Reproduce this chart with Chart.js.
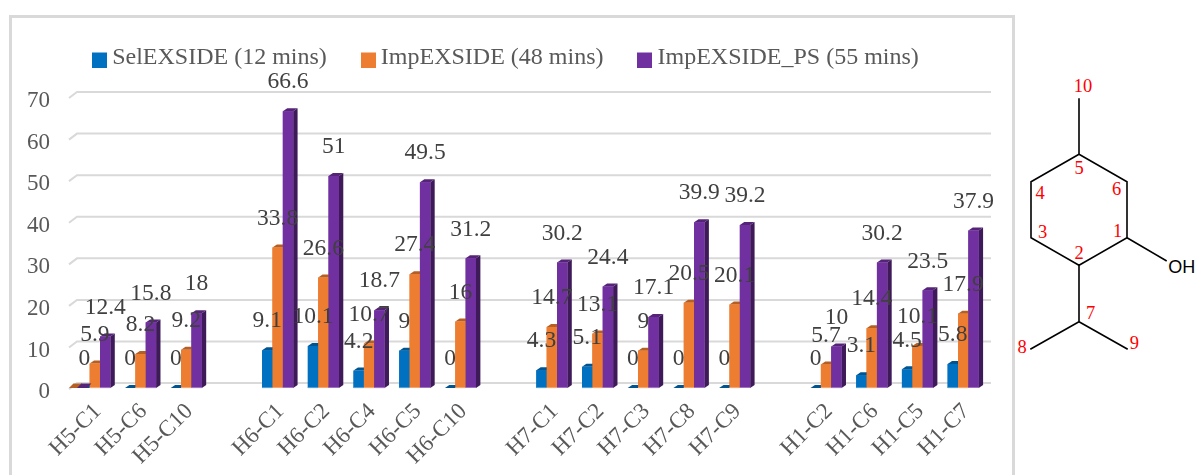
<!DOCTYPE html>
<html><head><meta charset="utf-8">
<script src="https://cdn.jsdelivr.net/npm/chart.js@4"></script>
<style>
html,body{margin:0;padding:0;background:#fff;overflow:hidden}
#frame{position:absolute;left:9px;top:15px;width:1000px;height:470px;border:3px solid #d9d9d9;box-sizing:content-box}
#wrap{position:absolute;left:0;top:0;width:1012px;height:475px;overflow:hidden}
#mol{position:absolute;left:1012px;top:0}
</style></head><body>
<div id="frame"></div>
<div id="wrap"><canvas id="c" width="1012" height="472"></canvas></div>
<svg id="mol" width="185" height="475" viewBox="1012 0 185 475">
<g fill="none" stroke="#000" stroke-width="1.6">
<path d="M1079 98.3V154.3L1127 181.7V237.7L1079 265.3L1031 237.7V181.7L1079 154.3"/>
<path d="M1127 237.7L1166.7 261M1079 265.3V321.7L1030.3 349.3M1079 321.7L1127.7 349.3"/>
</g>
<g fill="#ff0000" font-family="Liberation Serif" font-size="18.5" text-anchor="middle" dominant-baseline="central">
<text x="1083" y="86">10</text><text x="1079" y="167.7">5</text><text x="1116.7" y="189">6</text><text x="1040" y="192.7">4</text><text x="1042.7" y="231.7">3</text><text x="1117.7" y="231">1</text><text x="1079" y="253">2</text><text x="1090.7" y="312.7">7</text><text x="1022" y="346.7">8</text><text x="1134.3" y="342.7">9</text>
</g>
<text x="1181.7" y="266.7" fill="#000" font-family="Liberation Sans" font-size="18" text-anchor="middle" dominant-baseline="central">OH</text>
</svg>
<script>
const categories = ['H5-C1','H5-C6','H5-C10','','H6-C1','H6-C2','H6-C4','H6-C5','H6-C10','','H7-C1','H7-C2','H7-C3','H7-C8','H7-C9','','H1-C2','H1-C6','H1-C5','H1-C7'];
const selExside = [0,0,0,null,9.1,10.1,4.2,9,0,null,4.3,5.1,0,0,0,null,0,3.1,4.5,5.8];
const impExside = [5.9,8.2,9.2,null,33.8,26.6,10.7,27.4,16,null,14.7,13.1,9,20.5,20.1,null,5.7,14.4,10.1,17.9];
const impExsidePs = [12.4,15.8,18,null,66.6,51,18.7,49.5,31.2,null,30.2,24.4,17.1,39.9,39.2,null,10,30.2,23.5,37.9];
const seriesNames = ['SelEXSIDE (12 mins)','ImpEXSIDE (48 mins)','ImpEXSIDE_PS (55 mins)'];
const yTicks = [0,10,20,30,40,50,60,70];

const fills = ['#0070C0','#ED7D31','#7030A0'];
const caps = ['#00548f','#b55f24','#552479'];
const sides = ['#003f6b','#8a4719','#3e1a59'];
const DX = 4.4, DY = 3;

function swatch(color){
  const s = document.createElement('canvas'); s.width = 15; s.height = 19;
  const g = s.getContext('2d'); g.fillStyle = color; g.fillRect(0,4,15,15);
  return s;
}
const swatches = fills.map(swatch);

const bars3d = {
  id:'bars3d',
  beforeLayout(chart){
    const l = chart.legend;
    if (!l._baseFit) {
      l._baseFit = l.fit;
      l.fit = function(){ this._baseFit(); this.height += 17; };
    }
  },
  afterLayout(chart){
    chart.legend.left += 16;
    chart.legend.right += 16;
  },
  beforeDatasetsDraw(chart){
    const {ctx, scales:{x,y}} = chart;
    ctx.save();
    ctx.strokeStyle = '#d9d9d9'; ctx.lineWidth = 2;
    y.ticks.forEach(t=>{
      const py = y.getPixelForValue(t.value);
      ctx.beginPath();
      ctx.moveTo(x.left-3, py+1);
      ctx.lineTo(x.left+5, py-5);
      ctx.lineTo(x.right+5, py-5);
      ctx.stroke();
    });
    ctx.restore();
  },
  afterDatasetsDraw(chart){
    const {ctx, scales:{x,y}} = chart;
    ctx.save();
    chart.data.datasets.forEach((ds,i)=>{
      chart.getDatasetMeta(i).data.forEach((b,k)=>{
        if (ds.data[k] === null) return;
        const l = b.x - b.width/2, r = b.x + b.width/2, t = b.y, base = b.base;
        ctx.fillStyle = sides[i];
        ctx.beginPath();
        ctx.moveTo(r,t); ctx.lineTo(r+DX,t-DY); ctx.lineTo(r+DX,base-DY); ctx.lineTo(r,base);
        ctx.closePath(); ctx.fill();
        ctx.fillStyle = caps[i];
        ctx.beginPath();
        ctx.moveTo(l,t); ctx.lineTo(l+DX,t-DY); ctx.lineTo(r+DX,t-DY); ctx.lineTo(r,t);
        ctx.closePath(); ctx.fill();
        if (t < base) {
          b.draw(ctx);
          ctx.fillStyle = 'rgba(255,255,255,0.35)';
          ctx.fillRect(l, base-1, r-l, 1);
        }
      });
    });
    // flattened floor pieces at the far left of the plot
    const py = y.getPixelForValue(0), h = 4.5;
    const piece = (a,b,c)=>{
      ctx.fillStyle = c;
      ctx.beginPath(); ctx.moveTo(a,py); ctx.lineTo(a+DX,py-h); ctx.lineTo(b+DX,py-h); ctx.lineTo(b,py);
      ctx.closePath(); ctx.fill();
    };
    piece(x.left-3, x.left+6, caps[1]);
    piece(x.left+5, x.left+15, caps[2]);
    // value labels
    ctx.font = '23.5px "Liberation Serif"';
    ctx.fillStyle = '#404040';
    ctx.textAlign = 'center';
    ctx.textBaseline = 'middle';
    chart.data.datasets.forEach((ds,i)=>{
      chart.getDatasetMeta(i).data.forEach((b,k)=>{
        if (ds.data[k] === null) return;
        ctx.fillText(String(ds.data[k]), b.x, b.y-29);
      });
    });
    ctx.restore();
  }
};

new Chart(document.getElementById('c'),{
  type:'bar',
  data:{labels:categories,datasets:[
    {label:seriesNames[0],data:selExside,backgroundColor:fills[0]},
    {label:seriesNames[1],data:impExside,backgroundColor:fills[1]},
    {label:seriesNames[2],data:impExsidePs,backgroundColor:fills[2]}
  ]},
  options:{
    responsive:false,animation:false,
    layout:{padding:{top:5,right:26,left:0,bottom:0}},
    datasets:{bar:{barPercentage:1,categoryPercentage:0.68,borderWidth:0}},
    plugins:{
      tooltip:{enabled:false},
      legend:{position:'top',labels:{
        usePointStyle:true,boxWidth:1,boxHeight:15,padding:41,
        color:'#595959',font:{family:'Liberation Serif',size:24},
        generateLabels(chart){
          return Chart.defaults.plugins.legend.labels.generateLabels(chart).map((it,i)=>{it.pointStyle=swatches[i];return it;});
        }
      }}
    },
    scales:{
      x:{grid:{display:false},border:{display:false},
        ticks:{autoSkip:false,maxRotation:45,minRotation:45,padding:2,labelOffset:3,color:'#595959',font:{family:'Liberation Serif',size:23}}},
      y:{min:0,max:70,grid:{display:false},border:{display:false},
        afterFit(s){s.width=72;},
        afterBuildTicks(s){s.ticks=yTicks.map(v=>({value:v}));},
        ticks:{padding:14,labelOffset:4,color:'#595959',font:{family:'Liberation Serif',size:23}}}
    }
  },
  plugins:[bars3d]
});
</script>
</body></html>
